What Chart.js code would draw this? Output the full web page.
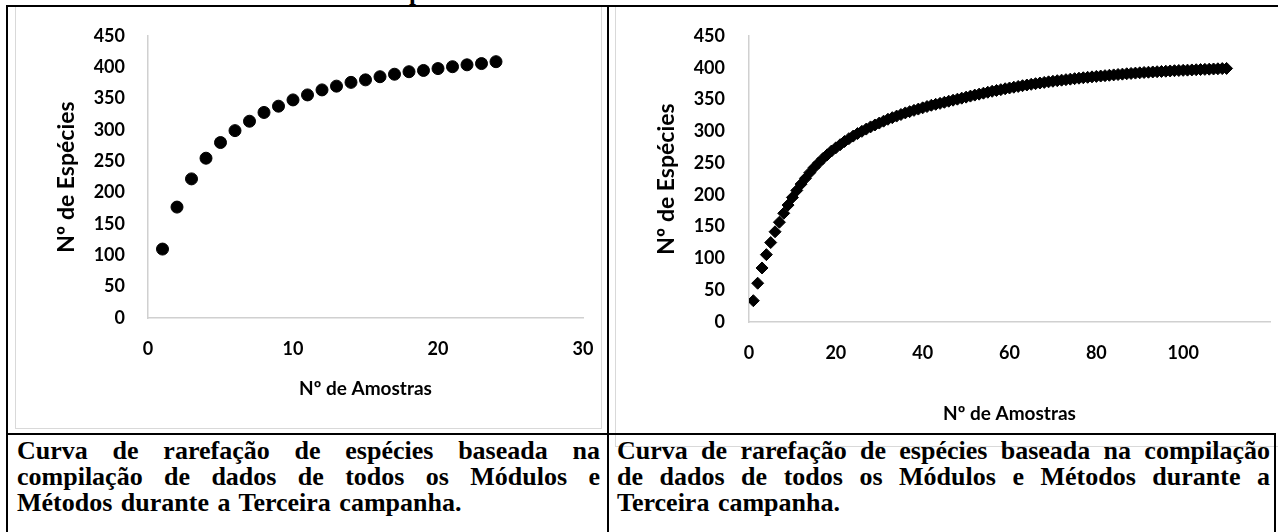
<!DOCTYPE html>
<html lang="pt-BR">
<head>
<meta charset="utf-8">
<title>Curva de rarefação de espécies</title>
<script src="https://cdn.jsdelivr.net/npm/chart.js@4.4.1/dist/chart.umd.min.js"></script>
<style>
    html, body { margin: 0; padding: 0; background: #fff; }
    body { width: 1278px; height: 532px; position: relative; overflow: hidden; }
    .line { position: absolute; background: #000; }
    .box { position: absolute; box-sizing: border-box; border: 1.5px solid #d9d9d9; border-top: none; }
    canvas { position: absolute; }
    .caption {
        position: absolute; font-family: "Liberation Serif", "Times New Roman", serif;
        font-weight: bold; font-size: 26px; line-height: 26px; word-spacing: 2px; color: #000;
        text-align: justify; margin: 0;
    }
    .cut { position: absolute; left: 409px; top: -21px; font: bold 25px/25px "Liberation Serif", serif; }
</style>
</head>
<body>
<span class="cut">p</span>

<div class="box" style="left:15px; top:7px; width:587px; height:422px;"></div>
<div class="box" style="left:615px; top:7px; width:700px; height:440px;"></div>

<canvas id="chartA" width="585" height="421" style="left:16px; top:7px;"></canvas>
<canvas id="chartB" width="662" height="426" style="left:616px; top:7px;"></canvas>

<div class="line" style="left:6px; top:5px; width:1272px; height:2px;"></div>
<div class="line" style="left:6px; top:5px; width:2px; height:527px;"></div>
<div class="line" style="left:607px; top:5px; width:2px; height:527px;"></div>
<div class="line" style="left:6px; top:433px; width:1270px; height:2px;"></div>
<div class="line" style="left:1274px; top:433px; width:2px; height:99px;"></div>

<p class="caption" style="left:17px; top:438px; width:583px;">Curva de rarefação de espécies baseada na compilação de dados de todos os Módulos e Métodos durante a Terceira campanha.</p>
<p class="caption" style="left:617px; top:438px; width:653px;">Curva de rarefação de espécies baseada na compilação de dados de todos os Módulos e Métodos durante a Terceira campanha.</p>

<script>
// --- DADOS ---
const amostrasA = [1, 2, 3, 4, 5, 6, 7, 8, 9, 10, 11, 12, 13, 14, 15, 16, 17, 18, 19, 20, 21, 22, 23, 24];
const especiesA = [110, 177, 222, 255, 280, 299, 314, 328, 338, 348, 356, 364, 370, 376, 380, 385, 389, 393, 395, 398, 401, 404, 406, 409];

const especiesB = [
    33.5, 61, 85, 106, 125, 142, 157, 171, 184, 196,
    207, 217, 226, 235, 243, 250, 257, 263, 269, 274,
    279, 284, 288.5, 292.5, 296.5, 300, 303.5, 307, 310, 313,
    316, 319, 321.5, 324, 326.5, 329, 331, 333, 335, 337,
    339, 341, 342.5, 344, 345.7, 347.4, 349, 350.6, 352.2, 353.8,
    355.4, 357, 358.5, 360, 361.5, 363, 364.3, 365.6, 367, 368.2,
    369.4, 370.6, 371.8, 372.9, 374, 375, 376, 377, 377.9, 378.8,
    379.7, 380.5, 381.3, 382.1, 382.9, 383.6, 384.3, 385, 385.7, 386.4,
    387, 387.6, 388.2, 388.8, 389.4, 390, 390.6, 391.1, 391.6, 392.1,
    392.6, 393, 393.4, 393.8, 394.2, 394.6, 395, 395.4, 395.7, 396,
    396.3, 396.6, 396.9, 397.2, 397.5, 397.8, 398.1, 398.4, 398.7, 399
];
const amostrasB = especiesB.map((v, i) => i + 1);

const ticksY = [0, 50, 100, 150, 200, 250, 300, 350, 400, 450];
const ticksXA = [0, 10, 20, 30];
const ticksXB = [0, 20, 40, 60, 80, 100];

const tituloX = 'Nº de Amostras';
const tituloY = 'Nº de Espécies';

// --- CONFIG ---
const fonte = 'Lato, "Open Sans", sans-serif';
const corEixo = '#d0d0d0';

function eixoX(max, ticks, altura, padTitulo, padTicks) {
    return {
        type: 'linear', min: 0, max: max,
        afterBuildTicks: s => { s.ticks = ticks.map(v => ({ value: v })); },
        // a margem fica só por conta do layout.padding
        afterFit: s => { s.height = altura; s.paddingLeft = 0; s.paddingRight = 0; },
        grid: { display: false, drawTicks: false },
        border: { display: true, color: corEixo, width: 1.5 },
        ticks: { color: '#000', padding: padTicks, font: { family: fonte, size: 18, weight: 'bold' } },
        title: { display: true, text: tituloX, color: '#000', padding: { top: 0, bottom: padTitulo },
                 font: { family: fonte, size: 19, weight: 'bold' } }
    };
}

function eixoY(largura, padTicks) {
    return {
        type: 'linear', min: 0, max: 450,
        afterBuildTicks: s => { s.ticks = ticksY.map(v => ({ value: v })); },
        afterFit: s => { s.width = largura; s.paddingTop = 0; s.paddingBottom = 0; },
        grid: { display: false, drawTicks: false },
        border: { display: true, color: corEixo, width: 1.5 },
        ticks: { color: '#000', padding: padTicks, font: { family: fonte, size: 18, weight: 'bold' } },
        title: { display: true, text: tituloY, color: '#000', padding: { top: 37, bottom: 0 },
                 font: { family: fonte, size: 23, weight: 'bold' } }
    };
}

function grafico(id, xs, ys, ponto, raio, escalas, padding) {
    new Chart(document.getElementById(id), {
        type: 'scatter',
        data: {
            datasets: [{
                data: xs.map((x, i) => ({ x: x, y: ys[i] })),
                pointStyle: ponto,
                pointRadius: raio,
                backgroundColor: '#000',
                borderColor: '#000',
                borderWidth: 1
            }]
        },
        options: {
            responsive: false, animation: false, devicePixelRatio: 1,
            layout: { padding: padding },
            plugins: { legend: { display: false }, tooltip: { enabled: false } },
            scales: escalas
        }
    });
}

window.onload = () => {
    grafico('chartA', amostrasA, especiesA, 'circle', 6,
        { x: eixoX(30, ticksXA, 110, 27.6, 20), y: eixoY(132, 23) },
        { top: 29, right: 18, left: 0, bottom: 0 });

    grafico('chartB', amostrasB, especiesB, 'rectRot', 6,
        { x: eixoX(120, ticksXB, 111, 7.6, 20), y: eixoY(133, 24) },
        { top: 29, right: 8, left: 0, bottom: 0 });
};
</script>
</body>
</html>
